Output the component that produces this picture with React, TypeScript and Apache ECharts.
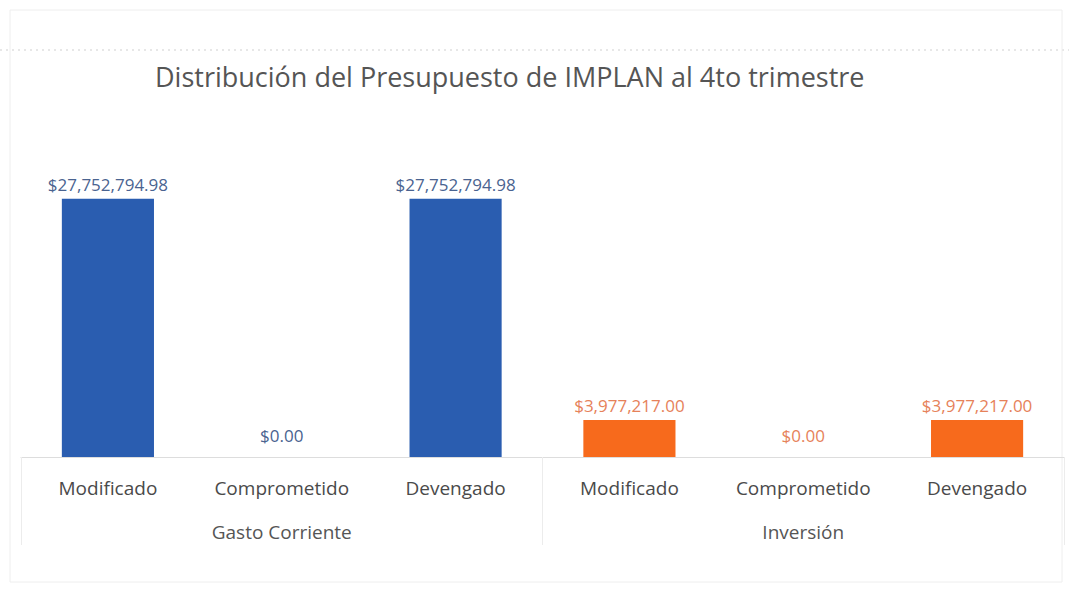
import React, { useEffect, useRef } from "react";
import * as echarts from "echarts";

const title = "Distribución del Presupuesto de IMPLAN al 4to trimestre";
const groups = ["Gasto Corriente", "Inversión"];
const categories = ["Modificado", "Comprometido", "Devengado", "Modificado", "Comprometido", "Devengado"];
const categoryGroup = [0, 0, 0, 1, 1, 1];
const values = [27752794.98, 0, 27752794.98, 3977217.0, 0, 3977217.0];

const barColors = ["#2a5db0", "#f76a1c"];
const labelColors = ["#4a6390", "#e6825a"];

const fmt = (v: number) =>
  "$" + v.toLocaleString("en-US", { minimumFractionDigits: 2, maximumFractionDigits: 2 });

export default function App() {
  const ref = useRef<HTMLDivElement>(null);
  useEffect(() => {
    if (!ref.current) return;
    const chart = echarts.init(ref.current, null, { renderer: "svg" });
    const data = values.map((v, i) => ({
      value: v,
      itemStyle: { color: barColors[categoryGroup[i]] },
      label: { color: labelColors[categoryGroup[i]], distance: v === 0 ? 13 : 6 },
    }));
    chart.setOption({
      animation: false,
      backgroundColor: "#ffffff",
      title: {
        text: title,
        left: 150,
        top: 58,
        textStyle: { fontFamily: "Open Sans", fontSize: 27, fontWeight: "normal", color: "#555" },
      },
      graphic: [
        {
          type: "line",
          shape: { x1: 0, y1: 50, x2: 1069, y2: 50 },
          style: { stroke: "#cfcfcf", lineWidth: 1, lineDash: [2, 4] },
        },
        {
          type: "rect",
          shape: { x: 10, y: 10, width: 1052, height: 572 },
          style: { fill: "none", stroke: "#eeeeee", lineWidth: 1 },
        },
      ],
      grid: { left: 21, right: 5, top: 150, bottom: 133 },
      xAxis: [
        {
          type: "category",
          data: categories,
          position: "bottom",
          axisLine: { show: true, lineStyle: { color: "#dddddd", width: 1 } },
          axisTick: { show: false },
          axisLabel: { margin: 21, fontFamily: "Open Sans", fontSize: 19, color: "#4a4a4a", interval: 0 },
        },
        {
          type: "category",
          data: groups,
          position: "bottom",
          axisLine: { show: false },
          axisTick: { show: true, length: 88, lineStyle: { color: "#ececec", width: 1 } },
          axisLabel: { margin: 65, fontFamily: "Open Sans", fontSize: 19, color: "#555", interval: 0 },
        },
      ],
      yAxis: {
        type: "value",
        min: 0,
        max: 33000000,
        show: false,
        splitLine: { show: false },
      },
      series: [
        {
          type: "bar",
          xAxisIndex: 0,
          barWidth: "53%",
          data,
          label: {
            show: true,
            position: "top",
            fontFamily: "Open Sans",
            fontSize: 17,
            formatter: (p: any) => fmt(p.value),
          },
        },
      ],
    });
    return () => chart.dispose();
  }, []);
  return (
    <div
      ref={ref}
      style={{ position: "fixed", left: 0, top: 0, width: 1069, height: 590 }}
    />
  );
}
